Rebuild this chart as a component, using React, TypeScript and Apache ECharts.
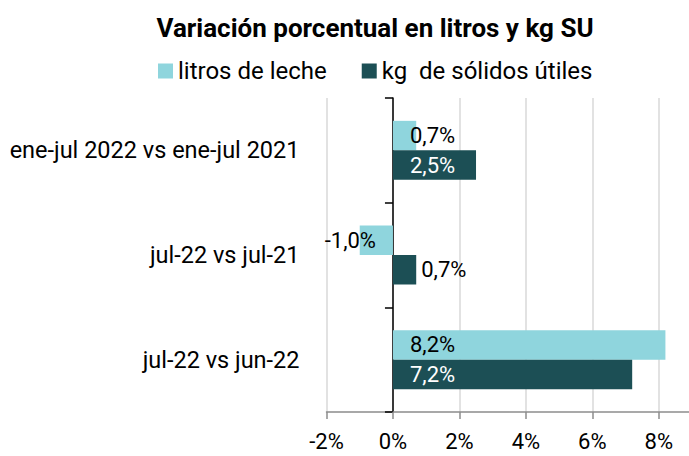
import React, { useEffect, useRef } from "react";
import * as echarts from "echarts";

const categories = ["ene-jul 2022 vs ene-jul 2021", "jul-22 vs jul-21", "jul-22 vs jun-22"];
const seriesNames = ["litros de leche", "kg  de sólidos útiles"];
const litros = [0.7, -1.0, 8.2];
const kg = [2.5, 0.7, 7.2];
const xTicks = { min: -2, max: 9, interval: 2 };

const LIGHT = "#8fd5dd";
const DARK = "#1c4f55";
const FONT = "Roboto";

const fmt = (v: number) => v.toFixed(1).replace(".", ",") + "%";

export default function App() {
  const ref = useRef<HTMLDivElement>(null);
  useEffect(() => {
    const chart = echarts.init(ref.current!, null, { renderer: "svg" });

    const litrosData = litros.map((v) => ({
      value: v,
      label:
        v < 0
          ? { position: "insideRight", distance: 17, color: "#000" }
          : { position: "insideLeft", distance: 17, color: "#000" },
    }));
    const kgData = kg.map((v) => ({
      value: v,
      label:
        v < 1
          ? { position: "right", distance: 5, color: "#000" }
          : { position: "insideLeft", distance: 17, color: "#fff" },
    }));

    chart.setOption({
      animation: false,
      textStyle: { fontFamily: FONT },
      title: {
        text: "Variación porcentual en litros y kg SU",
        left: 370,
        textAlign: "center",
        top: 10,
        textStyle: { fontFamily: FONT, fontSize: 26, fontWeight: "bold", color: "#000" },
      },
      legend: {
        left: 153,
        top: 54,
        itemWidth: 15,
        itemHeight: 15,
        itemGap: 35,
        icon: "rect",
        data: seriesNames,
        textStyle: { fontFamily: FONT, fontSize: 24, color: "#000" },
      },
      grid: { left: 326.5, top: 98, width: 365.5, height: 314, outerBoundsMode: "none", containLabel: false },
      xAxis: {
        type: "value",
        min: xTicks.min,
        max: xTicks.max,
        interval: xTicks.interval,
        axisLine: { show: true, lineStyle: { color: "#8c8c8c", width: 1.5 } },
        axisTick: { show: true, length: 7, lineStyle: { color: "#8c8c8c", width: 1.5 } },
        splitLine: { show: true, lineStyle: { color: "#d9d9d9", width: 1.5 } },
        axisLabel: {
          fontFamily: FONT,
          fontSize: 22,
          color: "#000",
          margin: 18,
          formatter: (v: number) => (v === xTicks.max ? "" : v + "%"),
        },
      },
      yAxis: [
        {
          type: "category",
          data: categories,
          inverse: true,
          position: "left",
          axisLine: { show: false, onZero: false },
          axisTick: { show: false },
          splitLine: { show: false },
          axisLabel: { fontFamily: FONT, fontSize: 23.5, color: "#000", margin: 27 },
        },
        {
          type: "category",
          data: categories,
          inverse: true,
          position: "left",
          axisLine: { show: true, onZero: true, lineStyle: { color: "#000", width: 1.5 } },
          axisTick: { show: true, length: 8, lineStyle: { color: "#000", width: 1.5 } },
          axisLabel: { show: false },
          splitLine: { show: false },
        },
      ],
      series: [
        {
          name: seriesNames[0],
          type: "bar",
          yAxisIndex: 0,
          data: litrosData,
          barWidth: 29.5,
          barGap: "0%",
          itemStyle: { color: LIGHT },
          label: { show: true, fontFamily: FONT, fontSize: 22, formatter: (p: any) => fmt(p.value) },
        },
        {
          name: seriesNames[1],
          type: "bar",
          yAxisIndex: 0,
          data: kgData,
          barWidth: 29.5,
          barGap: "0%",
          itemStyle: { color: DARK },
          label: { show: true, fontFamily: FONT, fontSize: 22, formatter: (p: any) => fmt(p.value) },
        },
      ],
    });
    return () => chart.dispose();
  }, []);
  return (
    <div
      ref={ref}
      style={{ position: "fixed", left: 0, top: 0, width: 689, height: 456, background: "#fff" }}
    />
  );
}
